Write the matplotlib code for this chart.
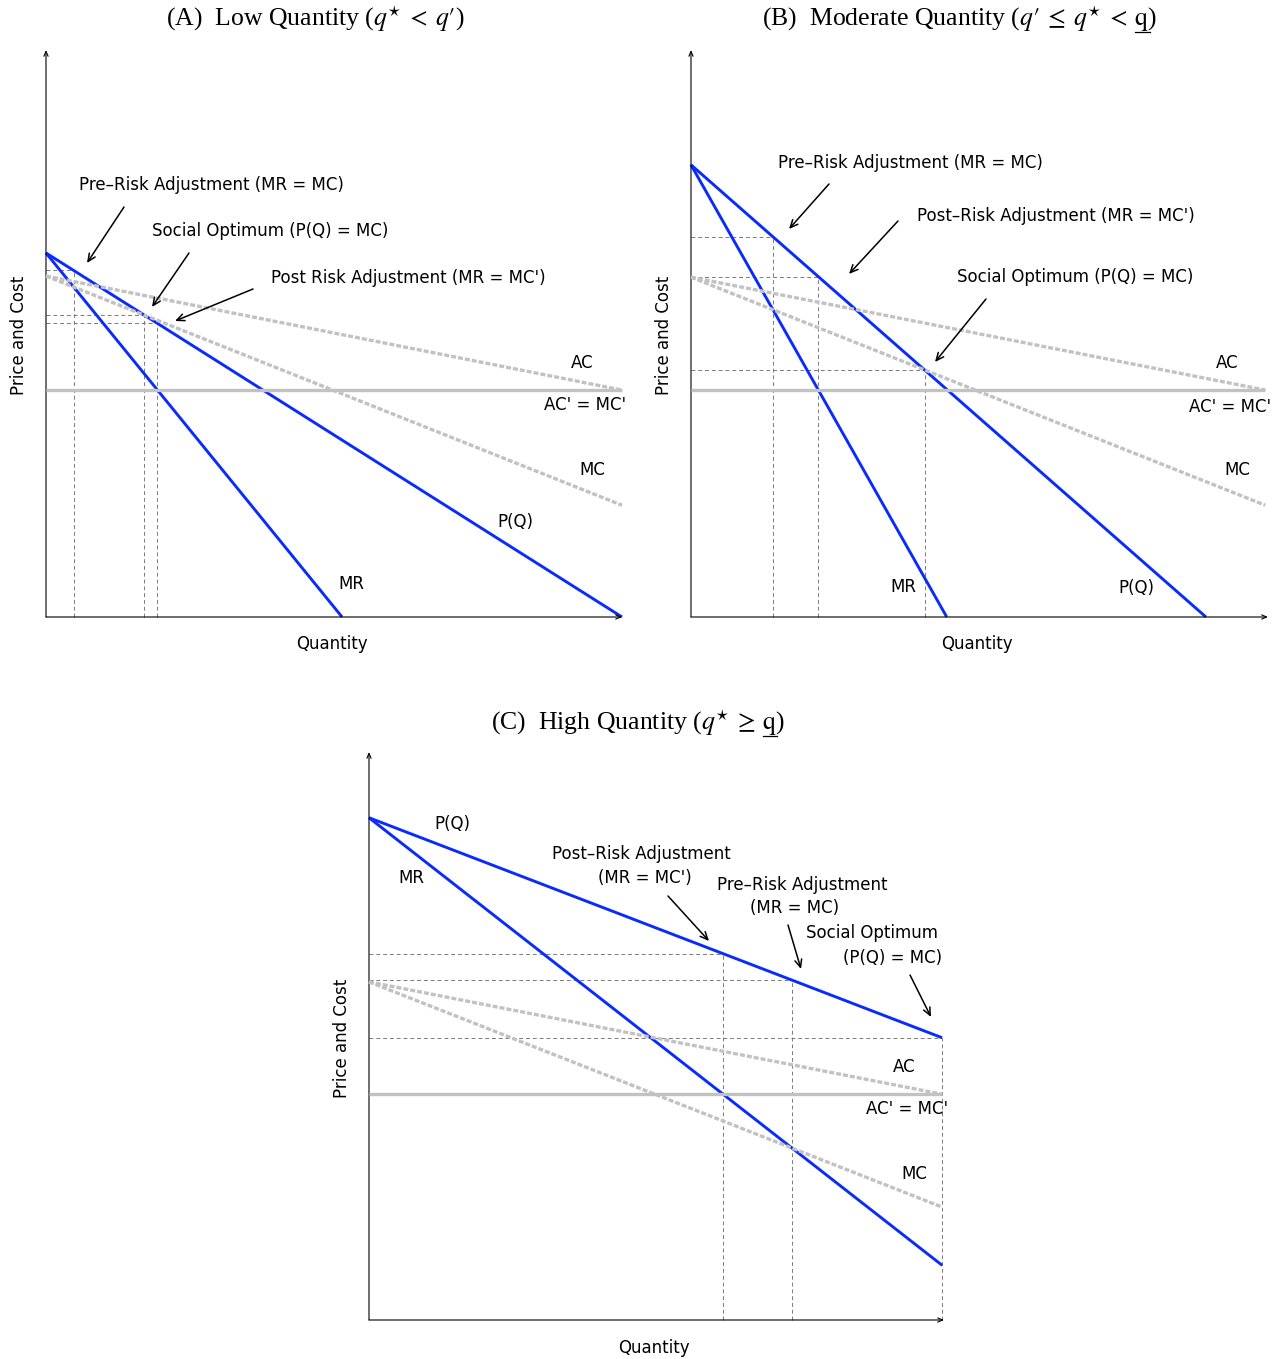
import numpy as np
import matplotlib
matplotlib.use("Agg")
import matplotlib.pyplot as plt
from matplotlib.lines import Line2D

plt.rcParams["font.family"] = ["DejaVu Sans"]
plt.rcParams["mathtext.fontset"] = "stix"

W, H, DPI = 1281, 1359, 100
S = 57.6  # pixels per unit (layout scale)

# ---------------- data (schematic price / quantity units) ----------------
# Panel A: low quantity
A_q = [0.0, 10.0]
A_demand = [6.32, 0.0]
A_mr_q = [0.0, 5.14]
A_mr = [6.32, 0.0]
A_ac = [5.92, 3.94]
A_mc = [5.92, 1.94]
A_mcp = [3.94, 3.94]

# Panel B: moderate quantity
B_q = [0.0, 9.97]
B_demand_q = [0.0, 8.94]
B_demand = [7.85, 0.0]
B_mr_q = [0.0, 4.44]
B_mr = [7.85, 0.0]
B_ac = [5.90, 3.94]
B_mc = [5.90, 1.94]
B_mcp = [3.94, 3.94]

# Panel C: high quantity
C_q = [0.0, 9.95]
C_demand = [8.72, 4.90]
C_mr = [8.72, 0.95]
C_ac = [5.87, 3.92]
C_mc = [5.87, 1.96]
C_mcp = [3.92, 3.92]

BLUE = "#0a2bff"
GRAY = "#c2c2c2"
GUIDE = "#7a7a7a"
FS = 12
TFS = 18.5
TFAM = ["Liberation Serif"]


def line_fn(qs, ps):
    slope = (ps[1] - ps[0]) / (qs[1] - qs[0])
    return lambda q: ps[0] + slope * (q - qs[0]), slope, ps[0] - slope * qs[0]


def intersect(l1, l2, qmax):
    _, m1, b1 = l1
    _, m2, b2 = l2
    if m1 == m2:
        return qmax
    q = (b2 - b1) / (m1 - m2)
    return min(q, qmax) if q > 0 else qmax


fig = plt.figure(figsize=(W / DPI, H / DPI), dpi=DPI)
renderer = fig.canvas.get_renderer()


def make_ax(ox, oy):
    ax = fig.add_axes([0, 0, 1, 1])
    ax.set_xlim(-ox / S, (W - ox) / S)
    ax.set_ylim(-(H - oy) / S, oy / S)
    ax.axis("off")
    ax.patch.set_alpha(0)
    return ax


def P(ox, oy, x, y):
    return ((x - ox) / S, (oy - y) / S)


def draw_title(title, cx, cy, underline_prefix=None, underline_y=None):
    t = fig.text(cx / W, 1 - cy / H, title, fontsize=TFS, ha="center", va="center", family=TFAM)
    if underline_prefix is not None:
        bb = t.get_window_extent(renderer)
        tmp = fig.text(0, 0, underline_prefix, fontsize=TFS, family=TFAM)
        w1 = tmp.get_window_extent(renderer).width
        tmp.remove()
        tmp = fig.text(0, 0, r"$\mathrm{q}$", fontsize=TFS, family=TFAM)
        wq = tmp.get_window_extent(renderer).width
        tmp.remove()
        x1 = bb.x0 + w1
        x0 = x1 - wq
        yy = 1 - underline_y / H
        fig.add_artist(Line2D([x0 / W, x1 / W], [yy, yy], transform=fig.transFigure,
                              color="black", lw=0.9))


def draw_panel(ox, oy, xend, ytop, dem, mr, ac, mc, mcp, qmax, texts, arrows,
               xlabel_xy, ylabel_xy):
    ax = make_ax(ox, oy)
    xe = (xend - ox) / S
    yt = (oy - ytop) / S
    axprops = dict(arrowstyle="->,head_length=0.35,head_width=0.15", lw=0.8, color="black",
                   shrinkA=0, shrinkB=0)
    ax.annotate("", xy=(0, yt), xytext=(0, 0), arrowprops=axprops)
    ax.annotate("", xy=(xe, 0), xytext=(0, 0), arrowprops=axprops)
    Pf = line_fn(dem[0], dem[1])
    MRf = line_fn(mr[0], mr[1])
    MCf = line_fn(mc[0], mc[1])
    MCPf = line_fn(mcp[0], mcp[1])
    pre = intersect(MRf, MCf, qmax)
    post = intersect(MRf, MCPf, qmax)
    soc = intersect(Pf, MCf, qmax)
    for q in (pre, post, soc):
        p = Pf[0](q)
        ax.plot([q, q], [0, p], color=GUIDE, lw=0.7, ls=(0, (4, 3)), zorder=1)
        ax.plot([0, q], [p, p], color=GUIDE, lw=0.7, ls=(0, (4, 3)), zorder=1)
    ax.plot(dem[0], dem[1], color=BLUE, lw=2.1, zorder=2, solid_capstyle="butt")
    ax.plot(mr[0], mr[1], color=BLUE, lw=2.1, zorder=2, solid_capstyle="butt")
    ax.plot(mcp[0], mcp[1], color=GRAY, lw=2.4, zorder=3, solid_capstyle="butt")
    ax.plot(ac[0], ac[1], color=GRAY, lw=2.4, ls=(0, (1.5, 0.6)), zorder=3)
    ax.plot(mc[0], mc[1], color=GRAY, lw=2.4, ls=(0, (1.5, 0.6)), zorder=3)
    for t, x, y in texts:
        ax.text(*P(ox, oy, x, y), t, fontsize=FS, ha="center", va="center")
    for (x0, y0, x1, y1) in arrows:
        ax.annotate("", xy=P(ox, oy, x1, y1), xytext=P(ox, oy, x0, y0),
                    arrowprops=dict(arrowstyle="->,head_length=0.55,head_width=0.25",
                                    lw=1.1, color="black", shrinkA=0, shrinkB=0))
    ax.text(*P(ox, oy, *xlabel_xy), "Quantity", fontsize=FS, ha="center", va="center")
    ax.text(*P(ox, oy, *ylabel_xy), "Price and Cost", fontsize=FS, ha="center",
            va="center", rotation=90)


D = "\u2013"

# Panel A
draw_panel(46, 617, 622, 50,
           (A_q, A_demand), (A_mr_q, A_mr), (A_q, A_ac), (A_q, A_mc), (A_q, A_mcp), A_q[1],
           [(f"Pre{D}Risk Adjustment (MR = MC)", 211, 185),
            ("Social Optimum (P(Q) = MC)", 270, 231),
            ("Post Risk Adjustment (MR = MC')", 408, 278),
            ("AC", 582, 363), ("AC' = MC'", 585, 405), ("MC", 592, 470),
            ("P(Q)", 515, 522), ("MR", 351, 584)],
           [(124, 207, 87, 263), (189, 253, 152, 307), (253, 289, 175, 321)],
           (332, 644), (19, 335))
draw_title(r"(A)  Low Quantity ($q^{\star}\:<\:q\prime$)", 315, 19)

# Panel B
draw_panel(691, 617, 1268, 50,
           (B_demand_q, B_demand), (B_mr_q, B_mr), (B_q, B_ac), (B_q, B_mc), (B_q, B_mcp), B_q[1],
           [(f"Pre{D}Risk Adjustment (MR = MC)", 910, 163),
            (f"Post{D}Risk Adjustment (MR = MC')", 1056, 216),
            ("Social Optimum (P(Q) = MC)", 1075, 277),
            ("AC", 1227, 363), ("AC' = MC'", 1230, 407), ("MC", 1237, 470),
            ("MR", 903, 587), ("P(Q)", 1136, 588)],
           [(829, 184, 789, 229), (898, 221, 849, 274), (986, 299, 935, 362)],
           (977, 644), (664, 335))
draw_title(r"(B)  Moderate Quantity ($q\prime\:\leq\:q^{\star}\:<\:\mathrm{q}$)", 960, 19,
           r"(B)  Moderate Quantity ($q\prime\:\leq\:q^{\star}\:<\:\mathrm{q}$", 32)

# Panel C
draw_panel(369, 1320, 944, 752,
           (C_q, C_demand), (C_q, C_mr), (C_q, C_ac), (C_q, C_mc), (C_q, C_mcp), C_q[1],
           [("P(Q)", 452, 824), ("MR", 411, 878),
            (f"Post{D}Risk Adjustment", 641, 854), ("(MR = MC')", 645, 878),
            (f"Pre{D}Risk Adjustment", 802, 885), ("(MR = MC)", 795, 908),
            ("Social Optimum", 872, 933), ("(P(Q) = MC)", 893, 958),
            ("AC", 904, 1067), ("AC' = MC'", 907, 1109), ("MC", 914, 1174)],
           [(668, 896, 709, 941), (788, 925, 801, 969), (910, 975, 931, 1017)],
           (654, 1348), (342, 1038))
draw_title(r"(C)  High Quantity ($q^{\star}\:\geq\:\mathrm{q}$)", 638, 723,
           r"(C)  High Quantity ($q^{\star}\:\geq\:\mathrm{q}$", 736)

fig.savefig("out.png", dpi=DPI)
